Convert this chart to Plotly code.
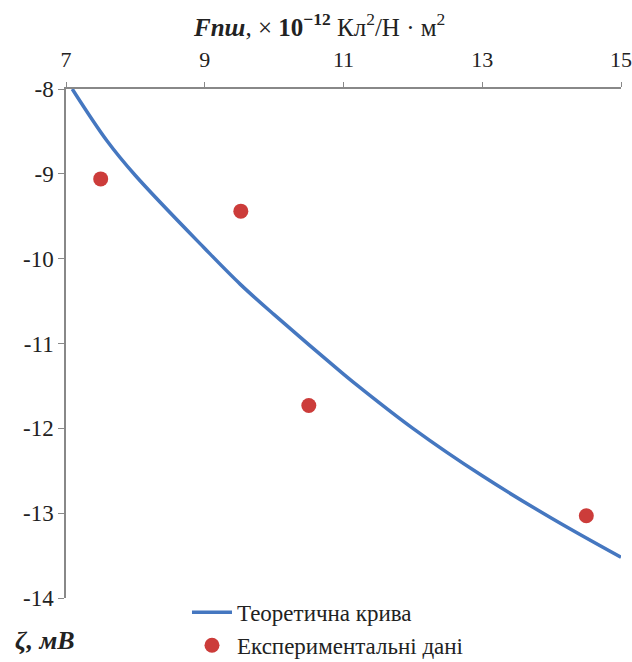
import plotly.graph_objects as go

# Theoretical curve
curve_x = [7.09, 7.59, 8.0, 9.0, 9.51, 10.0, 11.0, 11.24, 12.0, 13.0, 14.0, 15.0]
curve_y = [-8.0, -8.61, -9.02, -9.88, -10.30, -10.66, -11.36, -11.52, -12.0, -12.56, -13.06, -13.52]

# Experimental data
exp_x = [7.5, 9.52, 10.5, 14.5]
exp_y = [-9.06, -9.44, -11.73, -13.03]

x_ticks = [7, 9, 11, 13, 15]
y_ticks = [-8, -9, -10, -11, -12, -13, -14]
y_tick_labels = ["-8", "-9", "-10", "-11", "-12", "-13", "-14"]

SERIF = "Liberation Serif, Times New Roman, serif"

fig = go.Figure()
fig.add_trace(go.Scatter(
    x=curve_x, y=curve_y, mode="lines", name="Теоретична крива",
    line=dict(color="#4577c0", width=3.5, shape="spline"),
))
fig.add_trace(go.Scatter(
    x=exp_x, y=exp_y, mode="markers", name="Експериментальні дані",
    marker=dict(color="#cc3c3a", size=15),
))

fig.update_layout(
    width=632, height=662,
    margin=dict(l=66, r=11, t=89, b=64, autoexpand=False),
    paper_bgcolor="white", plot_bgcolor="white",
    font=dict(family=SERIF, size=20, color="#222"),
    showlegend=True,
    legend=dict(x=0.218, y=0.014, xanchor="left", yanchor="top",
                font=dict(family=SERIF, size=23, color="#222"),
                tracegroupgap=0, itemwidth=40, bgcolor="rgba(0,0,0,0)"),
    xaxis=dict(range=[7, 15], side="top", tickvals=x_ticks, automargin=False,
               showline=True, linecolor="#888", linewidth=1.5,
               ticks="outside", ticklen=5, tickcolor="#888",
               ticklabelstandoff=6, ticklabeloverflow="allow",
               showgrid=False, zeroline=False,
               tickfont=dict(family=SERIF, size=22, color="#222")),
    yaxis=dict(range=[-14, -8], tickvals=y_ticks, ticktext=y_tick_labels, automargin=False,
               showline=True, linecolor="#888", linewidth=1.5,
               ticks="outside", ticklen=6, tickcolor="#888",
               ticklabeloverflow="allow",
               showgrid=False, zeroline=False,
               tickfont=dict(family=SERIF, size=23, color="#222")),
    annotations=[
        dict(text="<b><i>Fпш</i></b>, × <b>10<sup>−12</sup></b> Кл<sup>2</sup>/Н · м<sup>2</sup>",
             xref="paper", yref="paper", x=0.456, y=1.0, yshift=64,
             xanchor="center", yanchor="middle", showarrow=False,
             font=dict(family=SERIF, size=25, color="#222")),
        dict(text="<b><i>ζ, мВ</i></b>",
             xref="paper", yref="paper", x=-0.095, y=0.0, yshift=-42,
             xanchor="left", yanchor="middle", showarrow=False,
             font=dict(family=SERIF, size=26, color="#222")),
    ],
)

fig.write_html("out.html", config={"displayModeBar": False},
               post_script="document.body.style.margin='0';")
